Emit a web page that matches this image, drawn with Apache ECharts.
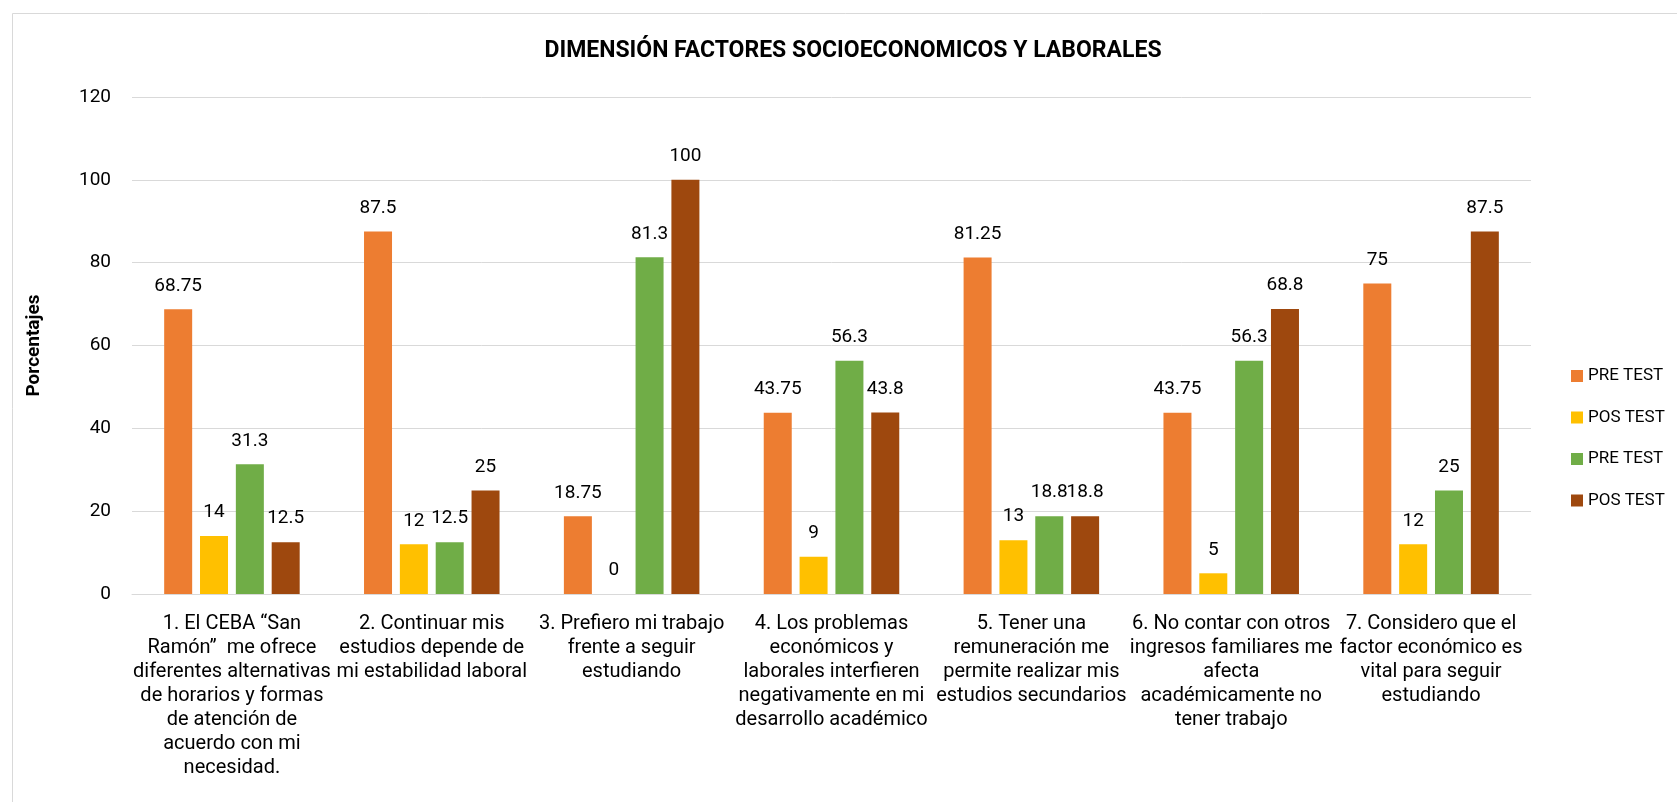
<!DOCTYPE html>
<html>
<head>
<meta charset="utf-8">
<script src="https://cdn.jsdelivr.net/npm/echarts@6/dist/echarts.min.js"></script>
<style>
html,body{margin:0;padding:0;background:#fff;}
#chart{width:1677px;height:802px;}
</style>
</head>
<body>
<div id="chart"></div>
<script>
const categories = [
  '1. El CEBA \u201cSan\nRam\u00f3n\u201d  me ofrece\ndiferentes alternativas\nde horarios y formas\nde atenci\u00f3n de\nacuerdo con mi\nnecesidad.',
  '2. Continuar mis\nestudios depende de\nmi estabilidad laboral',
  '3. Prefiero mi trabajo\nfrente a seguir\nestudiando',
  '4. Los problemas\necon\u00f3micos y\nlaborales interfieren\nnegativamente en mi\ndesarrollo acad\u00e9mico',
  '5. Tener una\nremuneraci\u00f3n me\npermite realizar mis\nestudios secundarios',
  '6. No contar con otros\ningresos familiares me\nafecta\nacad\u00e9micamente no\ntener trabajo',
  '7. Considero que el\nfactor econ\u00f3mico es\nvital para seguir\nestudiando'
];
const preTest1 = [68.75, 87.5, 18.75, 43.75, 81.25, 43.75, 75];
const posTest1 = [14, 12, 0, 9, 13, 5, 12];
const preTest2 = [31.3, 12.5, 81.3, 56.3, 18.8, 56.3, 25];
const posTest2 = [12.5, 25, 100, 43.8, 18.8, 68.8, 87.5];
const seriesNames = ['PRE TEST (1)', 'POS TEST (1)', 'PRE TEST (2)', 'POS TEST (2)'];
const yTicks = [0, 20, 40, 60, 80, 100, 120];
const titleText = 'DIMENSI\u00d3N FACTORES SOCIOECONOMICOS Y LABORALES';
const yName = 'Porcentajes';

const colors = ['#ED7D31', '#FFC000', '#70AD47', '#9E480E'];
const FONT = 'Roboto';
const TXT = '#000000';

const chart = echarts.init(document.getElementById('chart'), null, {renderer: 'canvas'});

function barSeries(name, data, color) {
  return {
    name: name,
    type: 'bar',
    data: data,
    barWidth: 28,
    barGap: '28%',
    itemStyle: {color: color},
    label: {
      show: true,
      position: 'top',
      distance: 14,
      color: TXT,
      fontFamily: FONT,
      fontSize: 19
    },
    emphasis: {disabled: true}
  };
}

chart.setOption({
  animation: false,
  backgroundColor: '#ffffff',
  color: colors,
  graphic: [{
    type: 'rect',
    shape: {x: 12.5, y: 13.5, width: 1720, height: 900},
    style: {fill: 'none', stroke: '#D9D9D9', lineWidth: 1},
    silent: true,
    z: -10
  }],
  title: {
    text: titleText,
    left: 853,
    textAlign: 'center',
    top: 39,
    padding: 0,
    textStyle: {fontFamily: FONT, fontWeight: 'bold', fontSize: 23, lineHeight: 25, color: TXT}
  },
  legend: {
    orient: 'vertical',
    left: 1571,
    top: 366,
    padding: 0,
    itemWidth: 12,
    itemHeight: 12,
    itemGap: 21.5,
    icon: 'rect',
    data: seriesNames,
    formatter: function (n) { return n.replace(/ \(\d\)$/, ''); },
    textStyle: {fontFamily: FONT, fontSize: 17, lineHeight: 20, color: TXT}
  },
  grid: {left: 132, right: 146, top: 97, bottom: 208, containLabel: false},
  xAxis: {
    type: 'category',
    data: categories,
    axisLine: {show: true, lineStyle: {color: '#D9D9D9', width: 1}},
    axisTick: {show: false},
    axisLabel: {
      interval: 0,
      margin: 18,
      fontFamily: FONT,
      fontSize: 20,
      lineHeight: 24,
      color: TXT,
      align: 'center'
    }
  },
  yAxis: {
    type: 'value',
    min: yTicks[0],
    max: yTicks[yTicks.length - 1],
    interval: yTicks[1] - yTicks[0],
    name: yName,
    nameLocation: 'middle',
    nameGap: 88,
    nameTextStyle: {fontFamily: FONT, fontWeight: 'bold', fontSize: 19, color: TXT},
    axisLine: {show: false},
    axisTick: {show: false},
    splitLine: {lineStyle: {color: '#D9D9D9', width: 1}},
    axisLabel: {margin: 21, fontFamily: FONT, fontSize: 19, color: TXT}
  },
  series: [
    barSeries(seriesNames[0], preTest1, colors[0]),
    barSeries(seriesNames[1], posTest1, colors[1]),
    barSeries(seriesNames[2], preTest2, colors[2]),
    barSeries(seriesNames[3], posTest2, colors[3])
  ]
});
</script>
</body>
</html>
